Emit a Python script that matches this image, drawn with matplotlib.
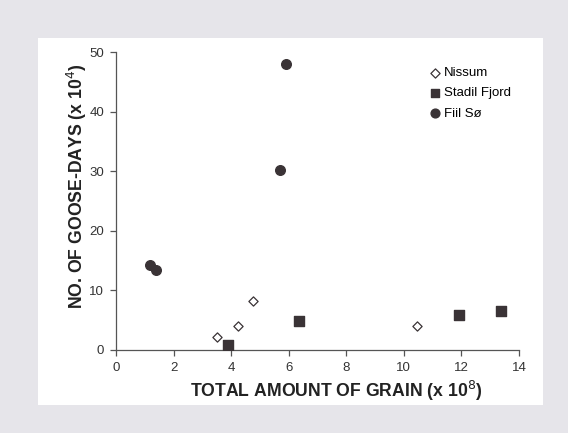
import matplotlib
matplotlib.use("Agg")
import matplotlib.pyplot as plt

# grain (x 10^8) vs goose-days (x 10^4)
nissum_x = [3.50, 4.25, 4.75, 10.44]
nissum_y = [2.1, 4.0, 8.3, 4.0]
stadil_x = [3.88, 6.37, 11.90, 13.38]
stadil_y = [0.8, 4.9, 5.9, 6.6]
fiil_x = [1.19, 1.38, 5.69, 5.90]
fiil_y = [14.2, 13.5, 30.2, 48.0]

x_ticks = [0, 2, 4, 6, 8, 10, 12, 14]
y_ticks = [0, 10, 20, 30, 40, 50]

plt.rcParams["font.family"] = ["Liberation Sans", "DejaVu Sans"]

fig = plt.figure(figsize=(5.68, 4.33), dpi=100)
fig.patch.set_facecolor("#e6e5ea")

# white panel behind the plot
panel = plt.Rectangle((38 / 568, 1 - 405 / 433), (543 - 38) / 568, (405 - 38) / 433,
                      transform=fig.transFigure, facecolor="white", edgecolor="none", zorder=-5)
fig.patches.append(panel)

ax = fig.add_axes([116 / 568, 1 - 350 / 433, (519 - 116) / 568, (350 - 52) / 433])
ax.set_zorder(2)
ax.set_facecolor("none")

ink = "#3a3336"
ax.scatter(nissum_x, nissum_y, marker="D", s=22, facecolor="white", edgecolor=ink,
           linewidth=0.9, label="Nissum", zorder=3)
ax.scatter(stadil_x, stadil_y, marker="s", s=55, facecolor=ink, edgecolor=ink,
           label="Stadil Fjord", zorder=3)
ax.scatter(fiil_x, fiil_y, marker="o", s=48, facecolor=ink, edgecolor=ink,
           label="Fiil Sø", zorder=3)

ax.set_xlim(0, 14)
ax.set_ylim(0, 50)
ax.set_xticks(x_ticks)
ax.set_yticks(y_ticks)
ax.spines["top"].set_visible(False)
ax.spines["right"].set_visible(False)
for s in ["left", "bottom"]:
    ax.spines[s].set_color("#555555")
    ax.spines[s].set_linewidth(0.9)
ax.tick_params(direction="out", length=4, width=0.9, color="#555555",
               labelsize=9.5, labelcolor="#333333", pad=4.5)

ax.set_xlabel("TOTAL AMOUNT OF GRAIN (x 10$^{8}$)", fontsize=12.7, fontweight="bold",
              color="#222222", labelpad=4)
ax.set_ylabel("NO. OF GOOSE-DAYS (x 10$^{4}$)", fontsize=12.7, fontweight="bold",
              color="#222222", labelpad=0.5)
ax.xaxis.label.set_x(0.546)
ax.yaxis.label.set_y(0.549)

leg = ax.legend(loc="upper left", bbox_to_anchor=(0.765, 0.968), frameon=False, fontsize=9.5,
                handlelength=0.8, handletextpad=0.3, labelspacing=0.62, borderaxespad=0,
                scatterpoints=1)
for h, size in zip(leg.legend_handles, [22, 40, 40]):
    h.set_sizes([size])

fig.savefig("out.png", dpi=100, facecolor=fig.get_facecolor())
